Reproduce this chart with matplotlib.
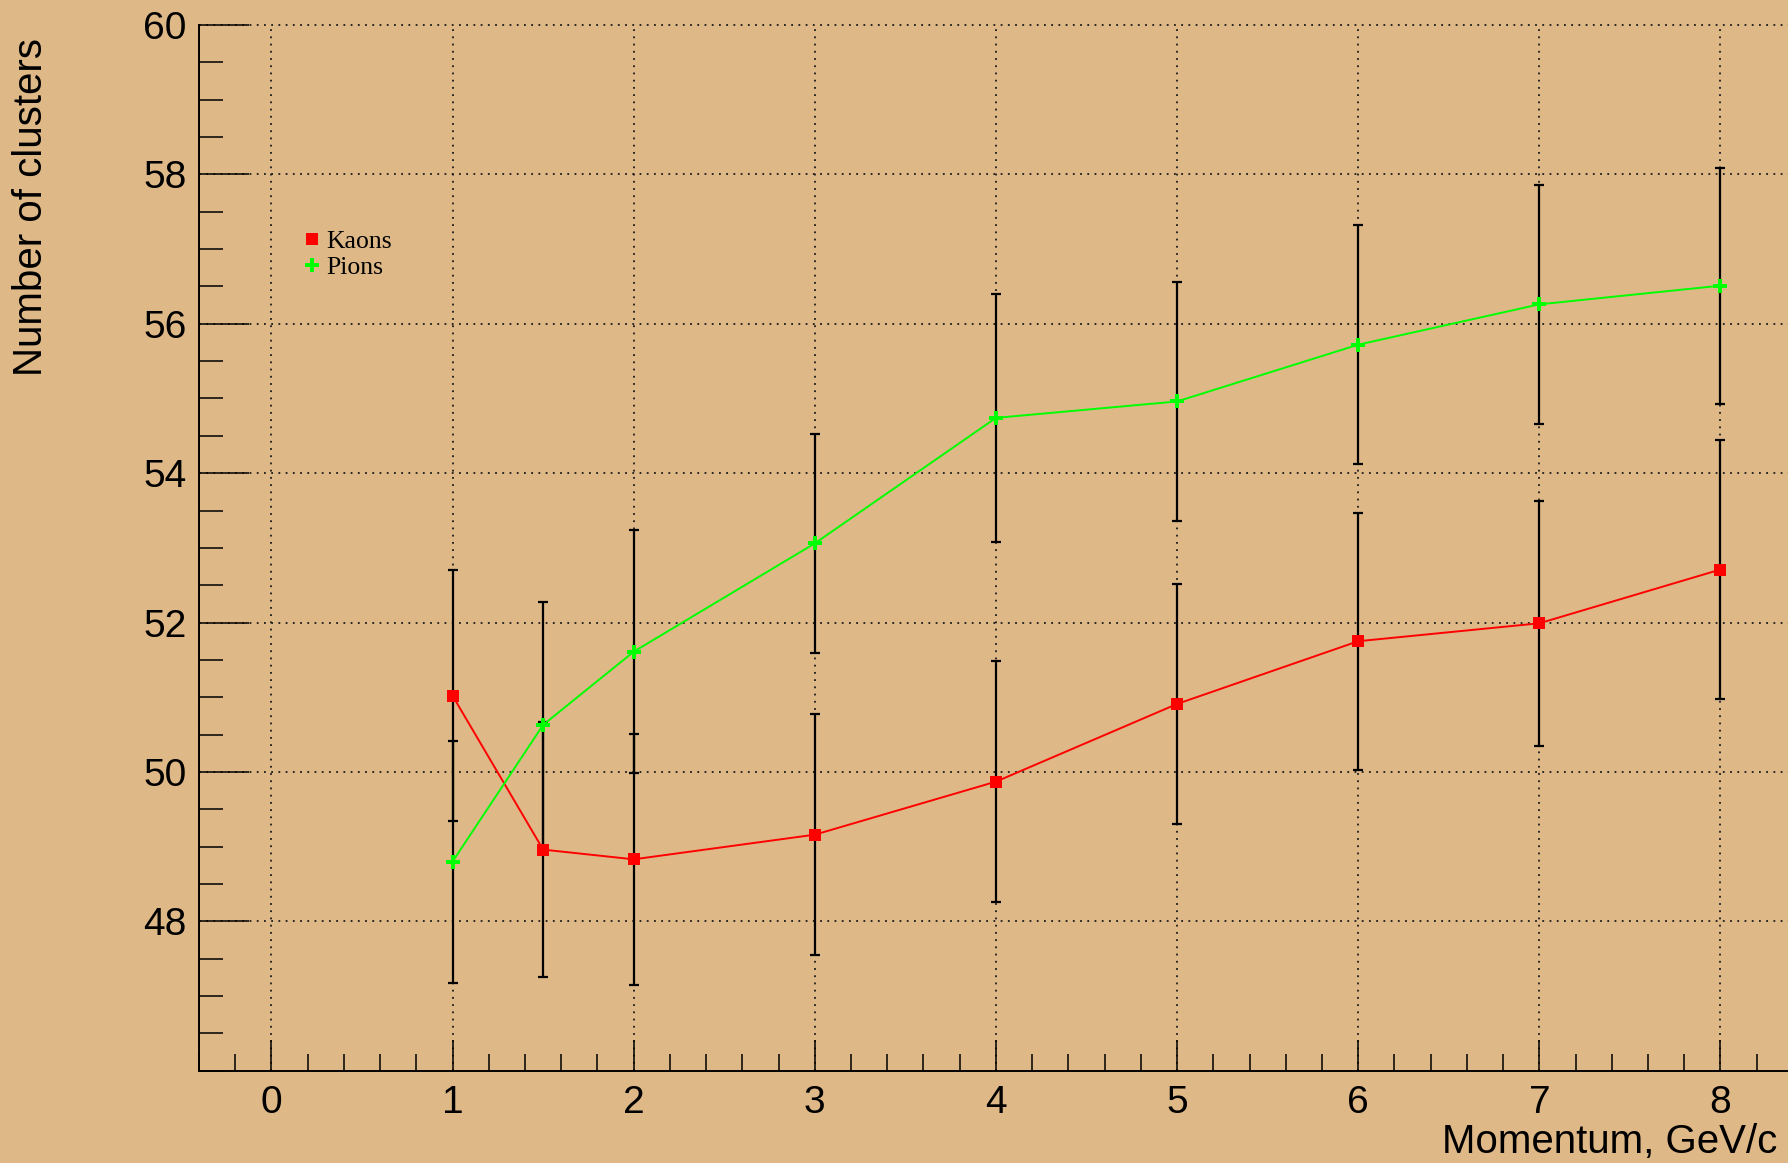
import matplotlib
matplotlib.use("Agg")
import matplotlib.pyplot as plt
from matplotlib.lines import Line2D
from matplotlib.ticker import MultipleLocator, FixedLocator

momentum = [1, 1.5, 2, 3, 4, 5, 6, 7, 8]
kaons = [51.02, 48.96, 48.83, 49.16, 49.87, 50.91, 51.75, 51.99, 52.71]
kaon_err = [1.68, 1.71, 1.68, 1.61, 1.61, 1.61, 1.72, 1.64, 1.73]
pions = [48.80, 50.63, 51.61, 53.06, 54.74, 54.96, 55.72, 56.26, 56.51]
pion_err = [1.62, 1.64, 1.63, 1.47, 1.66, 1.60, 1.60, 1.60, 1.58]

x_ticks = [0, 1, 2, 3, 4, 5, 6, 7, 8]
y_ticks = [48, 50, 52, 54, 56, 58, 60]

BG = "#DEB887"
W, H = 1788, 1163
fig = plt.figure(figsize=(W / 100, H / 100), dpi=100, facecolor=BG)
ax = fig.add_axes([199 / W, 92.3 / H, (W - 199) / W, (1070.7 - 25) / H])
ax.set_facecolor(BG)

ax.set_xlim(-0.4, 8.373)
ax.set_ylim(46.0, 60.0)

ax.xaxis.set_major_locator(FixedLocator(x_ticks))
ax.xaxis.set_minor_locator(MultipleLocator(0.2))
ax.yaxis.set_major_locator(FixedLocator(y_ticks))
ax.yaxis.set_minor_locator(MultipleLocator(0.5))

font = "Liberation Sans"
ax.set_xticklabels([str(v) for v in x_ticks], fontsize=28, family=font)
ax.set_yticklabels([str(v) for v in y_ticks], fontsize=28, family=font)

ax.tick_params(axis="x", which="major", direction="in", length=22, width=1.1, pad=10.5, colors="black")
ax.tick_params(axis="x", which="minor", direction="in", length=12, width=1.1)
ax.tick_params(axis="y", which="major", direction="in", length=36, width=1.1, pad=9, colors="black")
ax.tick_params(axis="y", which="minor", direction="in", length=17, width=1.1)

for s in ["top", "right"]:
    ax.spines[s].set_visible(False)
for s in ["left", "bottom"]:
    ax.spines[s].set_linewidth(1.4)
    ax.spines[s].set_color("black")

ax.grid(True, which="major", color="#1a1a1a", linestyle=(0, (1, 3)), linewidth=1.3)
for gl in ax.get_xgridlines() + ax.get_ygridlines():
    gl.set_clip_on(False)
ax.set_axisbelow(True)

# error bars
ax.errorbar(momentum, kaons, yerr=kaon_err, fmt="none", ecolor="black",
            elinewidth=1.6, capsize=3.5, capthick=1.6, zorder=3)
ax.errorbar(momentum, pions, yerr=pion_err, fmt="none", ecolor="black",
            elinewidth=1.6, capsize=3.5, capthick=1.6, zorder=3)

# lines + markers
ax.plot(momentum, kaons, color="#FF0000", lw=1.4, zorder=4)
ax.plot(momentum, pions, color="#00FF00", lw=1.4, zorder=4)
ax.plot(momentum, kaons, linestyle="none", marker="s", markersize=9.3,
        color="#FF0000", markeredgewidth=0, zorder=5)
ax.plot(momentum, pions, linestyle="none", marker="P", markersize=10.5,
        color="#00FF00", markeredgewidth=0, zorder=5)

handles = [
    Line2D([], [], linestyle="none", marker="s", markersize=9, color="#FF0000", markeredgewidth=0),
    Line2D([], [], linestyle="none", marker="P", markersize=10, color="#00FF00", markeredgewidth=0),
]
leg = fig.legend(handles, ["Kaons", "Pions"], loc="upper left",
                 bbox_to_anchor=(302 / W, 1 - 230 / H), frameon=False,
                 prop={"family": "Liberation Serif", "size": 18.5},
                 handlelength=0.74, handletextpad=0.2, labelspacing=0.12,
                 borderpad=0, borderaxespad=0)

fig.text(31 / W, 1 - 38 / H, "Number of clusters", rotation=90, ha="center", va="top",
         fontsize=29, family=font)
fig.text(1777 / W, 1 - 1153 / H, "Momentum, GeV/c", ha="right", va="baseline",
         fontsize=29, family=font)

fig.savefig("out.png", dpi=100, facecolor=BG)
